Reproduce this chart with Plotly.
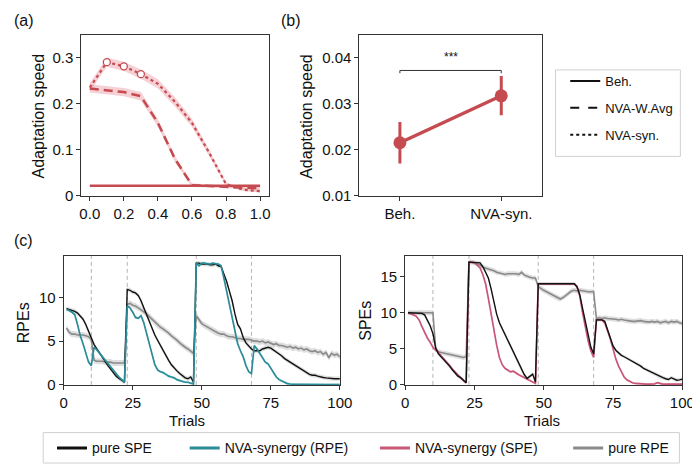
import numpy as np
import plotly.graph_objects as go

# ---------------- data: panel (a) ----------------
sel_weight = [0.0, 0.1, 0.2, 0.3, 0.4, 0.5, 0.6, 0.7, 0.8, 0.9, 1.0]
beh_speed = [0.0215, 0.0215, 0.0215, 0.0215, 0.0215, 0.0215, 0.0215, 0.0215, 0.0215, 0.0215, 0.0215]
wavg_speed = [0.233, 0.229, 0.225, 0.216, 0.158, 0.080, 0.023, 0.021, 0.019, 0.018, 0.016]
wavg_sem = [0.009, 0.009, 0.009, 0.009, 0.008, 0.007, 0.004, 0.003, 0.003, 0.003, 0.003]
syn_speed = [0.235, 0.290, 0.281, 0.264, 0.243, 0.204, 0.158, 0.094, 0.025, 0.013, 0.010]
syn_sem = [0.009, 0.010, 0.010, 0.010, 0.010, 0.010, 0.009, 0.007, 0.004, 0.003, 0.003]
syn_marker_weights = [0.1, 0.2, 0.3]

# ---------------- data: panel (b) ----------------
b_cats = ["Beh.", "NVA-syn."]
b_means = [0.0215, 0.0317]
b_low = [0.0170, 0.0275]
b_high = [0.0260, 0.0360]
sig_level = 0.0372
sig_text = "***"

# ---------------- data: panel (c) ----------------
trials = list(range(1, 101))
switch_trials = [10, 23, 48, 68]

# RPE panel
rpe_pure_spe = [8.7, 8.6, 8.5, 8.4, 8.2, 7.9, 7.5, 6.9, 6.1, 5.3, 4.6, 4.1, 3.6, 3.2, 2.7, 2.2, 1.8, 1.4, 1.0, 0.75, 0.5, 0.3,
                10.9, 10.8, 10.6, 10.5, 10.2, 9.6, 8.8, 8.0, 7.2, 6.4, 5.7, 5.1, 4.5, 3.9, 3.3, 2.8, 2.3, 1.9, 1.6, 1.3, 1.0, 0.8, 0.7, 0.9, 0.3,
                13.9, 13.9, 13.8, 13.8, 13.8, 13.7, 13.7, 13.8, 13.6, 13.5, 12.7, 11.8, 10.7, 9.6, 8.1, 6.9, 6.4, 5.4, 4.8, 4.4,
                4.1, 3.9, 3.9, 3.9, 4.1, 4.2, 4.3, 4.2, 4.0, 3.8, 3.6, 3.3, 3.0, 2.8, 2.6, 2.3, 2.1, 1.9, 1.7, 1.5, 1.4, 1.2, 1.1, 1.1, 1.0,
                0.9, 0.85, 0.8, 0.75, 0.75, 0.7, 0.7, 0.7]
rpe_nva_rpe = [8.6, 8.5, 8.3, 8.0, 6.9, 5.6, 4.7, 3.6, 2.6, 2.2, 4.3, 4.0, 3.6, 3.3, 2.9, 2.5, 2.0, 1.6, 1.2, 0.9, 0.6, 0.3,
               9.0, 8.8, 8.3, 7.7, 7.6, 7.9, 7.1, 6.0, 4.6, 3.5, 2.3, 1.7, 1.5, 1.4, 1.2, 1.0, 0.9, 0.8, 0.6, 0.5, 0.4, 0.3, 0.3, 0.2, 0.1,
               13.9, 13.6, 13.9, 13.9, 13.8, 13.8, 13.9, 13.8, 13.8, 13.6, 12.2, 10.7, 9.2, 7.7, 5.8, 4.7, 3.9, 3.2, 2.2, 1.5,
               1.3, 4.5, 4.1, 3.6, 3.2, 2.6, 2.4, 1.9, 1.3, 0.9, 0.6, 0.45, 0.26, 0.15, 0.1, 0.05, 0.05, 0.05, 0.04, 0.04, 0.04,
               0.05, 0.04, 0.04, 0.03, 0.03, 0.04, 0.03, 0.03, 0.03, 0.03, 0.03, 0.03]
rpe_pure_rpe = [6.5, 6.0, 5.8, 5.8, 5.7, 5.7, 5.7, 5.6, 5.5, 5.2, 2.8, 2.7, 2.7, 2.7, 2.6, 2.6, 2.6, 2.5, 2.5, 2.5, 2.5, 2.5,
                9.2, 9.3, 9.1, 9.0, 8.8, 8.6, 8.4, 8.1, 7.8, 7.5, 7.1, 6.8, 6.6, 6.4, 6.2, 5.9, 5.6, 5.4, 5.1, 4.8, 4.5, 4.3, 4.1, 3.9, 3.6,
                7.9, 7.4, 7.0, 6.8, 6.6, 6.4, 6.2, 6.0, 5.9, 5.8, 5.8, 5.6, 5.5, 5.5, 5.4, 5.3, 5.3, 5.2, 5.2, 5.2,
                5.1, 5.0, 5.0, 4.9, 5.0, 4.8, 4.9, 4.7, 4.6, 4.7, 4.5, 4.5, 4.4, 4.3, 4.4, 4.2, 4.3, 4.1, 4.2, 4.0, 4.1,
                3.9, 3.8, 3.9, 3.7, 3.8, 3.5, 3.7, 3.1, 3.6, 3.4, 3.5, 3.2]

# SPE panel
spe_pure_spe = [10.0, 10.0, 10.0, 10.0, 10.0, 9.9, 9.7, 9.0, 8.2, 7.1, 5.1, 4.3, 3.9, 3.5, 3.0, 2.6, 2.1, 1.6, 1.2, 1.0, 0.7, 0.3,
                17.0, 17.0, 17.0, 17.0, 16.9, 16.4, 15.7, 14.8, 13.3, 11.5, 9.8, 8.6, 7.8, 6.9, 6.1, 5.2, 4.4, 3.6, 2.8, 2.0, 1.4, 0.9, 1.2, 1.5, 0.4,
                14.0, 14.0, 14.0, 14.0, 14.0, 14.0, 14.0, 14.0, 14.0, 14.0, 14.0, 14.0, 14.0, 14.0, 13.6, 12.5, 10.6, 8.6, 7.0, 5.2,
                4.3, 9.0, 9.0, 9.0, 8.8, 7.7, 6.6, 5.4, 4.8, 4.4, 4.1, 3.9, 3.7, 3.5, 3.3, 3.1, 2.9, 2.6, 2.3, 2.1, 1.9,
                1.7, 1.5, 1.3, 1.1, 1.0, 0.85, 0.75, 1.0, 0.8, 0.65, 0.7, 0.8]
spe_nva_spe = [10.0, 9.9, 9.7, 9.5, 9.0, 8.1, 7.2, 6.5, 5.9, 5.2, 4.8, 4.5, 4.0, 3.6, 3.1, 2.7, 2.2, 1.8, 1.3, 1.0, 0.6, 0.3,
               17.0, 17.0, 16.9, 16.6, 16.2, 15.3, 14.0, 12.0, 9.7, 7.6, 5.5, 3.8, 2.8, 2.3, 2.0, 1.8, 1.9, 1.6, 1.4, 1.2, 1.0, 0.7, 0.5, 0.4, 0.2,
               14.0, 14.0, 14.0, 14.0, 14.0, 14.0, 14.0, 14.0, 14.0, 14.0, 14.0, 14.0, 14.0, 14.0, 13.6, 12.3, 10.0, 7.9, 6.1, 4.7,
               3.8, 9.0, 9.0, 9.0, 8.6, 7.6, 6.4, 5.0, 3.6, 2.6, 1.8, 1.1, 0.7, 0.45, 0.3, 0.2, 0.15, 0.1, 0.1, 0.1, 0.1,
               0.1, 0.15, 0.3, 0.15, 0.1, 0.1, 0.1, 0.1, 0.1, 0.1, 0.1, 0.1]
spe_pure_rpe = [10.0, 10.0, 10.0, 10.0, 10.0, 10.0, 10.0, 10.0, 10.0, 10.0, 5.0, 4.6, 4.5, 4.4, 4.3, 4.2, 4.1, 4.0, 4.0, 3.9, 3.8, 3.9,
                17.0, 17.0, 16.9, 16.8, 16.6, 16.3, 16.2, 16.0, 15.9, 15.8, 15.6, 15.5, 15.5, 15.3, 15.4, 15.4, 15.5, 15.4, 15.3, 15.6, 15.2, 15.0, 14.9, 14.8, 14.8,
                13.6, 13.3, 13.1, 12.9, 12.7, 12.5, 12.2, 12.0, 11.9, 12.1, 12.4, 12.7, 13.0, 13.1, 13.0, 13.1, 13.0, 13.0, 12.9, 12.9,
                12.9, 9.2, 9.3, 9.2, 9.3, 9.2, 9.2, 9.1, 9.1, 9.0, 9.1, 9.0, 8.9, 8.9, 8.8, 8.8, 8.9, 8.9, 8.8, 8.7, 8.7,
                8.8, 8.7, 8.8, 8.6, 8.7, 8.8, 8.6, 8.8, 8.7, 8.8, 8.6, 8.5]

sem_pure_spe = 0.25
sem_nva = 0.15
sem_pure_rpe = 0.35

legend_ab = ["Beh.", "NVA-W.Avg", "NVA-syn."]
legend_c = ["pure SPE", "NVA-synergy (RPE)", "NVA-synergy (SPE)", "pure RPE"]

# ---------------- styling ----------------
W, H = 700, 465
FONT = "Arial, Liberation Sans, sans-serif"
RED = "#c64b50"
RED_BAND = "rgba(230,140,150,0.40)"
TEAL = "#2b8c98"
TEAL_BAND = "rgba(100,200,210,0.35)"
PINK = "#c95878"
PINK_BAND = "rgba(240,150,175,0.40)"
GRAY = "#8a8a8a"
GRAY_BAND = "rgba(150,150,150,0.30)"
BLACK = "#111111"


def fx(p):
    return p / W


def fy(p):
    return 1 - p / H


fig = go.Figure()


def band(x, y, err, color, xa, ya):
    x = list(x)
    y = np.asarray(y, dtype=float)
    e = np.asarray(err, dtype=float) * np.ones_like(y)
    fig.add_trace(go.Scatter(x=x + x[::-1], y=list(y + e) + list((y - e)[::-1]),
                             fill="toself", fillcolor=color, line=dict(width=0),
                             mode="lines", showlegend=False, hoverinfo="skip",
                             xaxis=xa, yaxis=ya))


# ---- panel (a) ----
band(sel_weight, wavg_speed, wavg_sem, RED_BAND, "x", "y")
band(sel_weight, syn_speed, syn_sem, RED_BAND, "x", "y")
fig.add_trace(go.Scatter(x=sel_weight, y=beh_speed, mode="lines",
                         line=dict(color=RED, width=2.5), showlegend=False, xaxis="x", yaxis="y"))
fig.add_trace(go.Scatter(x=sel_weight, y=wavg_speed, mode="lines",
                         line=dict(color=RED, width=2.5, dash="9px,5px"), showlegend=False, xaxis="x", yaxis="y"))
fig.add_trace(go.Scatter(x=sel_weight, y=syn_speed, mode="lines",
                         line=dict(color=RED, width=2.2, dash="dot"), showlegend=False, xaxis="x", yaxis="y"))
mk_y = [syn_speed[sel_weight.index(w)] for w in syn_marker_weights]
fig.add_trace(go.Scatter(x=syn_marker_weights, y=mk_y, mode="markers",
                         marker=dict(symbol="circle", size=7, color="white", line=dict(color=RED, width=1.3)),
                         showlegend=False, xaxis="x", yaxis="y"))

# legend entries (a)/(b)
for name, dash in zip(legend_ab, ["solid", "dash", "dot"]):
    fig.add_trace(go.Scatter(x=[None], y=[None], mode="lines", name=name,
                             line=dict(color=BLACK, width=2, dash=dash),
                             legend="legend", legendgroup=name, xaxis="x", yaxis="y"))

# ---- panel (b) ----
bx = list(range(len(b_cats)))
fig.add_trace(go.Scatter(x=bx, y=b_means, mode="lines+markers",
                         line=dict(color=RED, width=3.5),
                         marker=dict(size=13, color=RED),
                         error_y=dict(type="data", symmetric=False,
                                      array=[h - m for h, m in zip(b_high, b_means)],
                                      arrayminus=[m - l for l, m in zip(b_low, b_means)],
                                      color=RED, thickness=3, width=0),
                         showlegend=False, xaxis="x2", yaxis="y2"))
tick_drop = 0.0006
fig.add_trace(go.Scatter(x=[bx[0], bx[0], bx[1], bx[1]],
                         y=[sig_level - tick_drop, sig_level, sig_level, sig_level - tick_drop],
                         mode="lines", line=dict(color="#333", width=1),
                         showlegend=False, xaxis="x2", yaxis="y2"))

# ---- panel (c) ----
band(trials, rpe_pure_rpe, sem_pure_rpe, GRAY_BAND, "x3", "y3")
band(trials, rpe_pure_spe, sem_pure_spe, GRAY_BAND, "x3", "y3")
band(trials, rpe_nva_rpe, sem_nva, TEAL_BAND, "x3", "y3")
fig.add_trace(go.Scatter(x=trials, y=rpe_pure_rpe, mode="lines", line=dict(color=GRAY, width=1.6),
                         showlegend=False, xaxis="x3", yaxis="y3"))
fig.add_trace(go.Scatter(x=trials, y=rpe_pure_spe, mode="lines", line=dict(color=BLACK, width=1.4),
                         showlegend=False, xaxis="x3", yaxis="y3"))
fig.add_trace(go.Scatter(x=trials, y=rpe_nva_rpe, mode="lines", line=dict(color=TEAL, width=1.7),
                         showlegend=False, xaxis="x3", yaxis="y3"))

band(trials, spe_pure_rpe, sem_pure_rpe, GRAY_BAND, "x4", "y4")
band(trials, spe_pure_spe, sem_pure_spe, GRAY_BAND, "x4", "y4")
band(trials, spe_nva_spe, sem_nva, PINK_BAND, "x4", "y4")
fig.add_trace(go.Scatter(x=trials, y=spe_pure_rpe, mode="lines", line=dict(color=GRAY, width=1.6),
                         showlegend=False, xaxis="x4", yaxis="y4"))
fig.add_trace(go.Scatter(x=trials, y=spe_nva_spe, mode="lines", line=dict(color=PINK, width=1.7),
                         showlegend=False, xaxis="x4", yaxis="y4"))
fig.add_trace(go.Scatter(x=trials, y=spe_pure_spe, mode="lines", line=dict(color=BLACK, width=1.4),
                         showlegend=False, xaxis="x4", yaxis="y4"))

# bottom legend entries, one legend each for precise placement
c_colors = [BLACK, TEAL, PINK, GRAY]
c_legend_x = [41, 177, 372, 570]
for i, (name, col) in enumerate(zip(legend_c, c_colors)):
    lg = "legend%d" % (i + 2)
    fig.add_trace(go.Scatter(x=[None], y=[None], mode="lines", name=name,
                             line=dict(color=col, width=3), legend=lg,
                             xaxis="x3", yaxis="y3"))

shapes = []
for t in switch_trials:
    for xa, ya in (("x3", "y3"), ("x4", "y4")):
        shapes.append(dict(type="line", xref=xa, yref=ya + " domain", x0=t, x1=t, y0=0, y1=1,
                           line=dict(color="#b5b5b5", width=1, dash="4px,3px"), layer="below"))
# legend frames
shapes.append(dict(type="rect", xref="paper", yref="paper",
                   x0=fx(32), x1=fx(684), y0=fy(463), y1=fy(432),
                   line=dict(color="#d0d0d0", width=1), fillcolor="rgba(0,0,0,0)", layer="below"))
shapes.append(dict(type="rect", xref="paper", yref="paper",
                   x0=fx(557), x1=fx(685), y0=fy(151), y1=fy(63),
                   line=dict(color="#d0d0d0", width=1), fillcolor="rgba(0,0,0,0)", layer="below"))

axis_common = dict(showline=True, mirror=True, linecolor="#333", linewidth=1,
                   ticks="outside", ticklen=4, tickwidth=1, tickcolor="#333",
                   showgrid=False, zeroline=False,
                   tickfont=dict(family=FONT, size=15, color="#111"))

legend_common = dict(font=dict(family=FONT, size=14, color="#111"), bgcolor="rgba(0,0,0,0)",
                     borderwidth=0, orientation="v", xanchor="left", yanchor="middle",
                     itemclick=False, itemdoubleclick=False)

layout = dict(
    width=W, height=H, margin=dict(l=0, r=0, t=0, b=0),
    paper_bgcolor="white", plot_bgcolor="white",
    font=dict(family=FONT, size=15, color="#111"),
    xaxis=dict(domain=[fx(71), fx(263)], range=[-0.05, 1.05], anchor="y",
               tickvals=[0, 0.2, 0.4, 0.6, 0.8, 1.0], tickformat=".1f", **axis_common),
    yaxis=dict(domain=[fy(191), fy(27)], range=[0, 0.35], anchor="x",
               tickvals=[0, 0.1, 0.2, 0.3], ticktext=["0", "0.1", "0.2", "0.3"], **axis_common),
    xaxis2=dict(domain=[fx(356), fx(543)], range=[-0.4, 1.4], anchor="y2",
                tickvals=bx, ticktext=b_cats, **axis_common),
    yaxis2=dict(domain=[fy(191), fy(27)], range=[0.01, 0.045], anchor="x2",
                tickvals=[0.01, 0.02, 0.03, 0.04], **axis_common),
    xaxis3=dict(domain=[fx(53), fx(336)], range=[0, 100], anchor="y3",
                tickvals=[0, 25, 50, 75, 100], **axis_common),
    yaxis3=dict(domain=[fy(383.5), fy(252)], range=[0, 14.75], anchor="x3",
                tickvals=[0, 5, 10], **axis_common),
    xaxis4=dict(domain=[fx(403), fx(687)], range=[0, 100], anchor="y4",
                tickvals=[0, 25, 50, 75, 100], **axis_common),
    yaxis4=dict(domain=[fy(383.5), fy(252)], range=[0, 17.9], anchor="x4",
                tickvals=[0, 5, 10, 15], **axis_common),
    legend=dict(x=fx(567), y=fy(59), xanchor="left", yanchor="top",
                bgcolor="rgba(0,0,0,0)", borderwidth=0,
                font=dict(family=FONT, size=13, color="#111"), tracegroupgap=7,
                itemclick=False, itemdoubleclick=False),
    shapes=shapes,
)
for i in range(4):
    layout["legend%d" % (i + 2)] = dict(x=fx(c_legend_x[i]), y=fy(448), **legend_common)

annotations = [
    dict(text="(a)", x=fx(0), y=fy(13), xanchor="left", yanchor="middle", font=dict(size=16)),
    dict(text="(b)", x=fx(274), y=fy(13), xanchor="left", yanchor="middle", font=dict(size=16)),
    dict(text="(c)", x=fx(0), y=fy(237), xanchor="left", yanchor="middle", font=dict(size=16)),
    dict(text="Adaptation speed", x=fx(27), y=fy(110), textangle=-90, xanchor="center", yanchor="middle", font=dict(size=16)),
    dict(text="Adaptation speed", x=fx(301), y=fy(110), textangle=-90, xanchor="center", yanchor="middle", font=dict(size=16)),
    dict(text="RPEs", x=fx(12), y=fy(320), textangle=-90, xanchor="center", yanchor="middle", font=dict(size=16)),
    dict(text="SPEs", x=fx(362), y=fy(318), textangle=-90, xanchor="center", yanchor="middle", font=dict(size=16)),
    dict(text="Trials", x=fx(179), y=fy(420), xanchor="center", yanchor="middle", font=dict(size=15)),
    dict(text="Trials", x=fx(543), y=fy(420), xanchor="center", yanchor="middle", font=dict(size=15)),
]
for a in annotations:
    a.update(xref="paper", yref="paper", showarrow=False)
annotations.append(dict(text=sig_text, x=0.5 * (bx[0] + bx[1]), y=0.0402, xref="x2", yref="y2",
                        showarrow=False, xanchor="center", yanchor="middle", font=dict(size=12)))
layout["annotations"] = annotations

fig.update_layout(**layout)
fig.write_html("out.html")
